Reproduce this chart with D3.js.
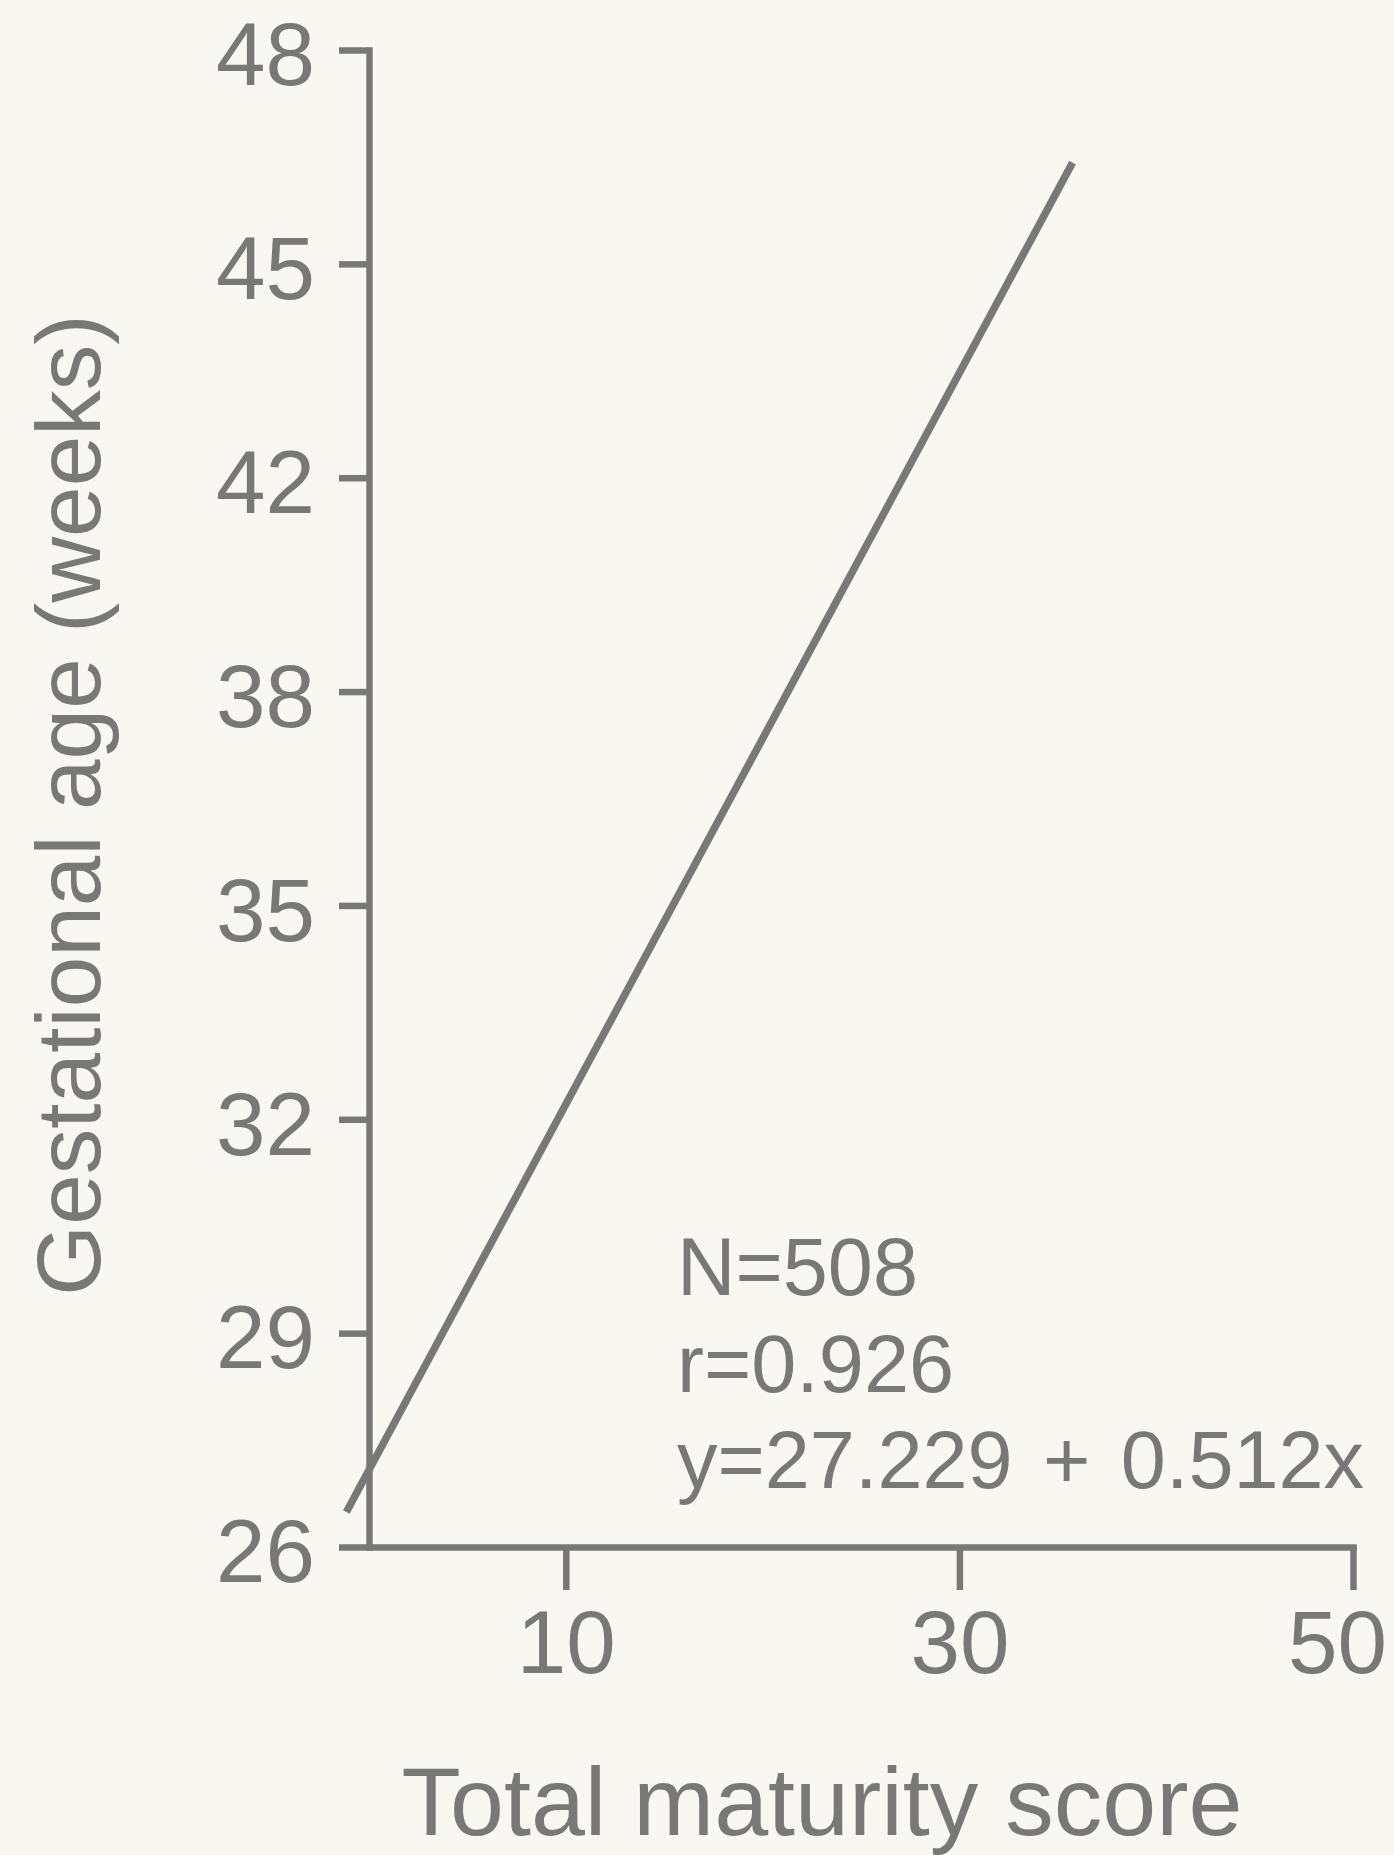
<!DOCTYPE html>
<html>
<head>
<meta charset="utf-8">
<script src="https://cdn.jsdelivr.net/npm/d3@7"></script>
<style>
  html, body { margin: 0; padding: 0; background: #f8f7f2; }
  svg { display: block; }
  text { font-family: "Liberation Sans", Arial, Helvetica, sans-serif; fill: #787876; }
</style>
</head>
<body>
<div id="chart"></div>
<script>
// ---- data ----
const yTickLabels = [26, 29, 32, 35, 38, 42, 45, 48];
const xTickLabels = [10, 30, 50];
const lineX = [-1.15, 35.75];
const lineY = [26.49, 46.42];
const annotation = ["N=508", "r=0.926", "y=27.229 + 0.512x"];
const xTitle = "Total maturity score";
const yTitle = "Gestational age (weeks)";

// ---- layout ----
const W = 1394, H = 1855;
const ink = "#787876";
const plotLeft = 369, plotRight = 1353, plotTop = 50, plotBottom = 1547;

const svg = d3.select("#chart").append("svg")
  .attr("width", W).attr("height", H);

svg.append("rect").attr("width", W).attr("height", H).attr("fill", "#f8f7f2");

const x = d3.scaleLinear().domain([0, 50]).range([plotLeft, plotRight]);
// the printed y axis spaces its labels evenly
const step = (plotBottom - plotTop) / (yTickLabels.length - 1);
const y = d3.scaleLinear()
  .domain(yTickLabels)
  .range(yTickLabels.map((d, i) => plotBottom - i * step));

// x axis
const gx = svg.append("g")
  .attr("transform", `translate(0,${plotBottom})`)
  .call(d3.axisBottom(x).tickValues(xTickLabels).tickSize(43).tickSizeOuter(0).tickPadding(20));

// y axis
const gy = svg.append("g")
  .attr("transform", `translate(${plotLeft},0)`)
  .call(d3.axisLeft(y).tickValues(yTickLabels).tickSize(30).tickSizeOuter(0).tickPadding(24));

[gx, gy].forEach(g => {
  g.select(".domain").attr("stroke", ink).attr("stroke-width", 6.5).attr("stroke-linecap", "square");
  g.selectAll(".tick line").attr("stroke", ink).attr("stroke-width", 6.5);
  g.selectAll(".tick text")
    .attr("fill", ink)
    .style("font-size", "89px")
    .style("font-family", "'Liberation Sans', Arial, sans-serif");
});
gy.selectAll(".tick text").attr("dy", "0.39em");
// last x label sits a little left of its tick in the print
gx.selectAll(".tick text").filter((d, i, n) => i === n.length - 1).attr("dx", -16);

// regression line
const pts = lineX.map((d, i) => [d, lineY[i]]);
svg.append("path")
  .datum(pts)
  .attr("fill", "none")
  .attr("stroke", ink)
  .attr("stroke-width", 7.5)
  .attr("d", d3.line().x(d => x(d[0])).y(d => y(d[1])));

// annotation
const ann = svg.append("text")
  .attr("x", 677)
  .attr("y", 1295)
  .style("font-size", "81px");
annotation.forEach((t, i) => {
  ann.append("tspan").attr("x", 677).attr("dy", i === 0 ? 0 : 96.5)
    .style("word-spacing", i === 2 ? "8px" : null)
    .text(t);
});

// axis titles
svg.append("text")
  .attr("x", 822).attr("y", 1835)
  .attr("text-anchor", "middle")
  .style("font-size", "97px")
  .text(xTitle);

svg.append("text")
  .attr("transform", "translate(100,805) rotate(-90)")
  .attr("text-anchor", "middle")
  .style("font-size", "91px")
  .text(yTitle);
</script>
</body>
</html>
